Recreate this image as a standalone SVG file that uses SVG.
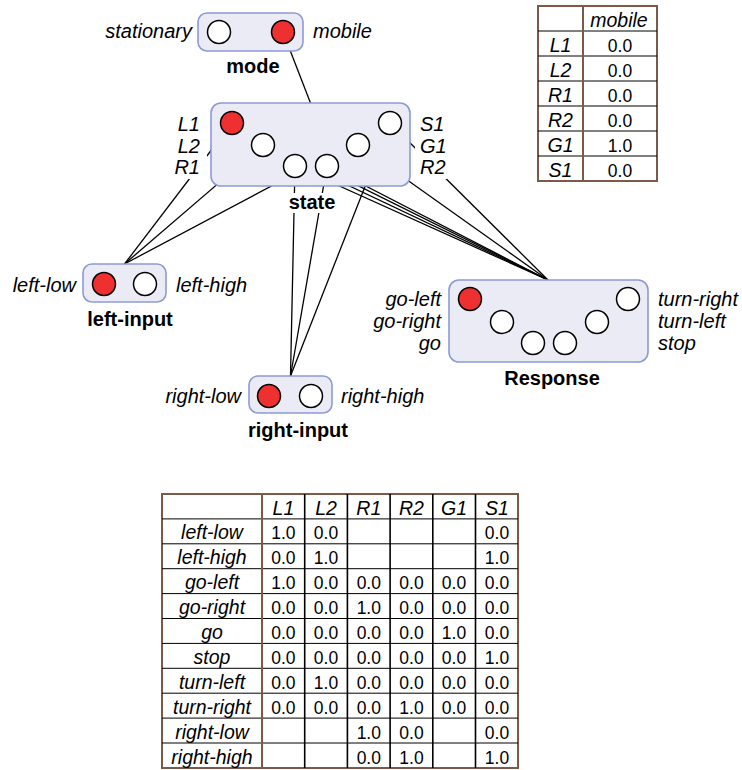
<svg xmlns="http://www.w3.org/2000/svg" width="742" height="770" viewBox="0 0 742 770">
<style>
.box{fill:#ebebf6;stroke:#8d9ad6;stroke-width:1.6}
.c{fill:#fff;stroke:#000;stroke-width:1.5}
.on{fill:#ee3030}
.lab{font-family:"Liberation Sans",Arial,sans-serif;font-style:italic;font-size:20px;fill:#000}
.ttl{font-family:"Liberation Sans",Arial,sans-serif;font-weight:bold;font-size:20px;fill:#000;text-anchor:middle}
.end{text-anchor:end}
.mid{text-anchor:middle}
.bg{fill:#fff}
.con line{stroke:#000;stroke-width:1.3}
.num{font-family:"Liberation Sans",Arial,sans-serif;font-size:17.5px;fill:#000;text-anchor:middle}
.tl{font-family:"Liberation Sans",Arial,sans-serif;font-style:italic;font-size:19.5px;fill:#000;text-anchor:middle}
.outer{fill:#fff;stroke:#7b5b47;stroke-width:2}
.div{stroke:#7b5b47;stroke-width:2}
.h{stroke:#000;stroke-width:1}
.v{stroke:#000;stroke-width:1.6}
</style>
<g id="connectors" class="con">
<line x1="283" y1="32" x2="310.5" y2="103"/>
<line x1="232" y1="123" x2="124.5" y2="264"/>
<line x1="263" y1="145" x2="124.5" y2="264"/>
<line x1="390" y1="123" x2="124.5" y2="264"/>
<line x1="295" y1="166" x2="290.5" y2="376"/>
<line x1="327" y1="166" x2="290.5" y2="376"/>
<line x1="390" y1="123" x2="290.5" y2="376"/>
<line x1="232" y1="123" x2="548" y2="280"/>
<line x1="263" y1="145" x2="548" y2="280"/>
<line x1="295" y1="166" x2="548" y2="280"/>
<line x1="327" y1="166" x2="548" y2="280"/>
<line x1="358" y1="145" x2="548" y2="280"/>
<line x1="390" y1="123" x2="548" y2="280"/>
</g>
<g id="mode">
<rect class="box" x="198" y="13" width="105" height="38" rx="9"/>
<circle class="c" cx="219" cy="32" r="11.5"/>
<circle class="c on" cx="283" cy="32" r="11.5"/>
<text class="lab end" x="192" y="38">stationary</text>
<text class="lab" x="313" y="38">mobile</text>
<text class="ttl" x="253" y="73">mode</text>
</g>
<g id="state">
<rect class="box" x="211" y="103" width="199" height="83" rx="10"/>
<circle class="c on" cx="232" cy="123" r="11.5"/>
<circle class="c" cx="263" cy="145" r="11.5"/>
<circle class="c" cx="295" cy="166" r="11.5"/>
<circle class="c" cx="327" cy="166" r="11.5"/>
<circle class="c" cx="358" cy="145" r="11.5"/>
<circle class="c" cx="390" cy="123" r="11.5"/>
<rect class="bg" x="170" y="114" width="37" height="65"/>
<rect class="bg" x="415" y="114" width="32" height="65"/>
<rect class="bg" x="287" y="193" width="50" height="20"/>
<text class="lab end" x="200" y="131">L1</text>
<text class="lab end" x="200" y="152.5">L2</text>
<text class="lab end" x="200" y="174">R1</text>
<text class="lab" x="420" y="131">S1</text>
<text class="lab" x="420" y="152.5">G1</text>
<text class="lab" x="420" y="174">R2</text>
<text class="ttl" x="312" y="209">state</text>
</g>
<g id="left-input">
<rect class="box" x="83" y="264" width="83" height="38" rx="9"/>
<circle class="c on" cx="104" cy="284" r="11.5"/>
<circle class="c" cx="145" cy="284" r="11.5"/>
<text class="lab end" x="76" y="292">left-low</text>
<text class="lab" x="176" y="292">left-high</text>
<text class="ttl" x="130" y="326">left-input</text>
</g>
<g id="right-input">
<rect class="box" x="249" y="376" width="83" height="37" rx="9"/>
<circle class="c on" cx="269" cy="396" r="11.5"/>
<circle class="c" cx="311" cy="396" r="11.5"/>
<text class="lab end" x="241" y="403">right-low</text>
<text class="lab" x="341" y="403">right-high</text>
<text class="ttl" x="298" y="437">right-input</text>
</g>
<g id="Response">
<rect class="box" x="449" y="280" width="199" height="82" rx="10"/>
<circle class="c on" cx="470" cy="299" r="11.5"/>
<circle class="c" cx="502" cy="322" r="11.5"/>
<circle class="c" cx="533" cy="343" r="11.5"/>
<circle class="c" cx="565" cy="343" r="11.5"/>
<circle class="c" cx="597" cy="322" r="11.5"/>
<circle class="c" cx="628" cy="299" r="11.5"/>
<text class="lab end" x="441" y="306">go-left</text>
<text class="lab end" x="441" y="328">go-right</text>
<text class="lab end" x="441" y="350">go</text>
<text class="lab" x="658" y="306">turn-right</text>
<text class="lab" x="658" y="328">turn-left</text>
<text class="lab" x="658" y="350">stop</text>
<text class="ttl" x="552" y="385">Response</text>
</g>
<g id="table-mode">
<rect class="outer" x="538" y="6" width="119" height="175"/>
<line class="h" x1="538" y1="31" x2="657" y2="31"/>
<line class="h" x1="538" y1="56" x2="657" y2="56"/>
<line class="h" x1="538" y1="81" x2="657" y2="81"/>
<line class="h" x1="538" y1="106" x2="657" y2="106"/>
<line class="h" x1="538" y1="131" x2="657" y2="131"/>
<line class="h" x1="538" y1="156" x2="657" y2="156"/>
<line class="div" x1="583" y1="6" x2="583" y2="181"/>
<text class="tl" x="619" y="26.5">mobile</text>
<text class="tl" x="560.5" y="51.5">L1</text><text class="num" x="620" y="51.5">0.0</text>
<text class="tl" x="560.5" y="76.5">L2</text><text class="num" x="620" y="76.5">0.0</text>
<text class="tl" x="560.5" y="101.5">R1</text><text class="num" x="620" y="101.5">0.0</text>
<text class="tl" x="560.5" y="126.5">R2</text><text class="num" x="620" y="126.5">0.0</text>
<text class="tl" x="560.5" y="151.5">G1</text><text class="num" x="620" y="151.5">1.0</text>
<text class="tl" x="560.5" y="176.5">S1</text><text class="num" x="620" y="176.5">0.0</text>
</g>
<g id="table-state">
<rect class="outer" x="162" y="494" width="356" height="274"/>
<line class="h" x1="162" y1="518.9" x2="518" y2="518.9"/>
<line class="h" x1="162" y1="543.8" x2="518" y2="543.8"/>
<line class="h" x1="162" y1="568.7" x2="518" y2="568.7"/>
<line class="h" x1="162" y1="593.6" x2="518" y2="593.6"/>
<line class="h" x1="162" y1="618.5" x2="518" y2="618.5"/>
<line class="h" x1="162" y1="643.4" x2="518" y2="643.4"/>
<line class="h" x1="162" y1="668.3" x2="518" y2="668.3"/>
<line class="h" x1="162" y1="693.2" x2="518" y2="693.2"/>
<line class="h" x1="162" y1="718.1" x2="518" y2="718.1"/>
<line class="h" x1="162" y1="743" x2="518" y2="743"/>
<line class="div" x1="262" y1="494" x2="262" y2="768"/>
<line class="v" x1="304.7" y1="494" x2="304.7" y2="768"/>
<line class="v" x1="347.4" y1="494" x2="347.4" y2="768"/>
<line class="v" x1="390.1" y1="494" x2="390.1" y2="768"/>
<line class="v" x1="432.8" y1="494" x2="432.8" y2="768"/>
<line class="v" x1="475.5" y1="494" x2="475.5" y2="768"/>
<text class="tl" x="283.4" y="514.5">L1</text>
<text class="tl" x="326" y="514.5">L2</text>
<text class="tl" x="368.8" y="514.5">R1</text>
<text class="tl" x="411.5" y="514.5">R2</text>
<text class="tl" x="454" y="514.5">G1</text>
<text class="tl" x="497" y="514.5">S1</text>
<text class="tl" x="212" y="539.4">left-low</text>
<text class="num" x="283.4" y="539.4">1.0</text><text class="num" x="326" y="539.4">0.0</text><text class="num" x="497" y="539.4">0.0</text>
<text class="tl" x="212" y="564.3">left-high</text>
<text class="num" x="283.4" y="564.3">0.0</text><text class="num" x="326" y="564.3">1.0</text><text class="num" x="497" y="564.3">1.0</text>
<text class="tl" x="212" y="589.2">go-left</text>
<text class="num" x="283.4" y="589.2">1.0</text><text class="num" x="326" y="589.2">0.0</text><text class="num" x="368.8" y="589.2">0.0</text><text class="num" x="411.5" y="589.2">0.0</text><text class="num" x="454" y="589.2">0.0</text><text class="num" x="497" y="589.2">0.0</text>
<text class="tl" x="212" y="614.1">go-right</text>
<text class="num" x="283.4" y="614.1">0.0</text><text class="num" x="326" y="614.1">0.0</text><text class="num" x="368.8" y="614.1">1.0</text><text class="num" x="411.5" y="614.1">0.0</text><text class="num" x="454" y="614.1">0.0</text><text class="num" x="497" y="614.1">0.0</text>
<text class="tl" x="212" y="639">go</text>
<text class="num" x="283.4" y="639">0.0</text><text class="num" x="326" y="639">0.0</text><text class="num" x="368.8" y="639">0.0</text><text class="num" x="411.5" y="639">0.0</text><text class="num" x="454" y="639">1.0</text><text class="num" x="497" y="639">0.0</text>
<text class="tl" x="212" y="663.9">stop</text>
<text class="num" x="283.4" y="663.9">0.0</text><text class="num" x="326" y="663.9">0.0</text><text class="num" x="368.8" y="663.9">0.0</text><text class="num" x="411.5" y="663.9">0.0</text><text class="num" x="454" y="663.9">0.0</text><text class="num" x="497" y="663.9">1.0</text>
<text class="tl" x="212" y="688.8">turn-left</text>
<text class="num" x="283.4" y="688.8">0.0</text><text class="num" x="326" y="688.8">1.0</text><text class="num" x="368.8" y="688.8">0.0</text><text class="num" x="411.5" y="688.8">0.0</text><text class="num" x="454" y="688.8">0.0</text><text class="num" x="497" y="688.8">0.0</text>
<text class="tl" x="212" y="713.7">turn-right</text>
<text class="num" x="283.4" y="713.7">0.0</text><text class="num" x="326" y="713.7">0.0</text><text class="num" x="368.8" y="713.7">0.0</text><text class="num" x="411.5" y="713.7">1.0</text><text class="num" x="454" y="713.7">0.0</text><text class="num" x="497" y="713.7">0.0</text>
<text class="tl" x="212" y="738.6">right-low</text>
<text class="num" x="368.8" y="738.6">1.0</text><text class="num" x="411.5" y="738.6">0.0</text><text class="num" x="497" y="738.6">0.0</text>
<text class="tl" x="212" y="763.5">right-high</text>
<text class="num" x="368.8" y="763.5">0.0</text><text class="num" x="411.5" y="763.5">1.0</text><text class="num" x="497" y="763.5">1.0</text>
</g>
</svg>
